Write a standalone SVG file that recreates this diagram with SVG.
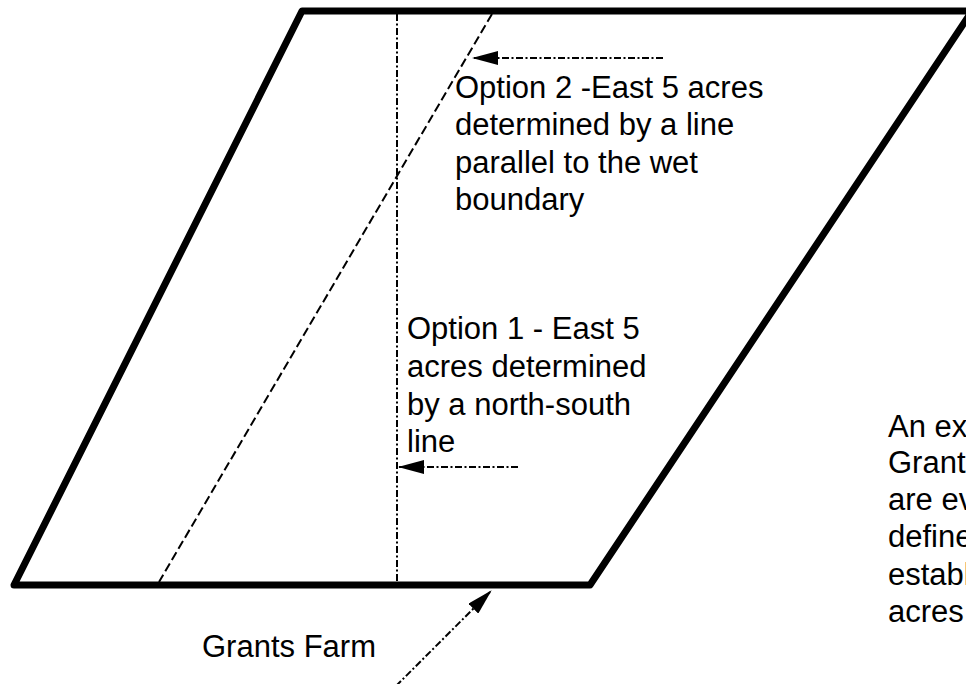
<svg xmlns="http://www.w3.org/2000/svg" width="966" height="684" viewBox="0 0 966 684">
<style>
.lbl{font-family:"Liberation Sans",Arial,sans-serif;font-size:31px;fill:#000}
.dd{fill:none;stroke:#000;stroke-width:2;stroke-dasharray:7 2.5 2 2.5}
.ds{fill:none;stroke:#000;stroke-width:2;stroke-dasharray:9 4}
.outline{fill:none;stroke:#000;stroke-width:7;stroke-linejoin:round}
</style>
<defs>
<marker id="ah" viewBox="0 0 26 14" refX="25" refY="7" markerWidth="26" markerHeight="14" markerUnits="userSpaceOnUse" orient="auto">
<path d="M0,0 L26,7 L0,14 Z" fill="#000"/>
</marker>
</defs>
<rect width="966" height="684" fill="#fff"/>
<g id="farm">
<polygon class="outline" points="302,11 972,11 590,585 14,585"/>
</g>
<g id="connectors">
<line id="option1-line" class="dd" x1="397" y1="14" x2="397" y2="582"/>
<line id="option2-line" class="ds" x1="492" y1="14" x2="159" y2="582"/>
<line id="arrow-option2" class="dd" x1="663" y1="58" x2="473" y2="58" marker-end="url(#ah)"/>
<line id="arrow-option1" class="dd" x1="518" y1="467" x2="399" y2="467" marker-end="url(#ah)"/>
<line id="arrow-farm" class="dd" x1="396" y1="686" x2="491" y2="591" marker-end="url(#ah)"/>
</g>
<g id="label-option2">
<text class="lbl" x="455" y="98">Option 2 -East 5 acres</text>
<text class="lbl" x="455" y="135">determined by a line</text>
<text class="lbl" x="455" y="173">parallel to the wet</text>
<text class="lbl" x="455" y="210">boundary</text>
</g>
<g id="label-option1">
<text class="lbl" x="407" y="339">Option 1 - East 5</text>
<text class="lbl" x="407" y="377">acres determined</text>
<text class="lbl" x="407" y="415">by a north-south</text>
<text class="lbl" x="407" y="452">line</text>
</g>
<g id="label-note">
<text class="lbl" x="888" y="437">An ex</text>
<text class="lbl" x="888" y="473">Grant</text>
<text class="lbl" x="888" y="510">are ev</text>
<text class="lbl" x="888" y="547">define</text>
<text class="lbl" x="888" y="585">establ</text>
<text class="lbl" x="888" y="622">acres</text>
</g>
<g id="label-farm">
<text class="lbl" x="202" y="657">Grants Farm</text>
</g>
</svg>
